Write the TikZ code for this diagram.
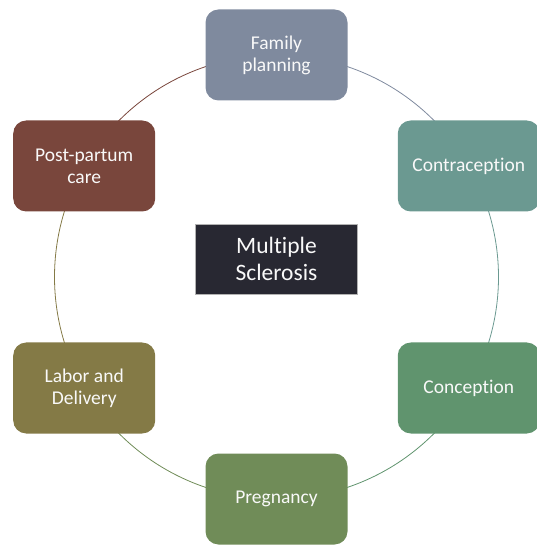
\documentclass[tikz,border=0pt]{standalone}
\usepackage{fontspec}
\setmainfont{Carlito}[Ligatures=NoCommon]
\usetikzlibrary{backgrounds}
\definecolor{fpcol}{RGB}{127,138,158}
\definecolor{contcol}{RGB}{107,153,145}
\definecolor{conccol}{RGB}{96,148,110}
\definecolor{pregcol}{RGB}{112,140,88}
\definecolor{labcol}{RGB}{132,122,70}
\definecolor{postcol}{RGB}{121,70,60}
\definecolor{mscol}{RGB}{40,40,50}
\tikzset{
    stage/.style={rounded corners=13pt, fill=#1, text=white!95!gray, minimum width=142pt,
        minimum height=91pt, align=center, font=\fontsize{19.5}{22}\selectfont},
    ring/.style={line width=.8pt, draw=#1}
}

\begin{document}
\begin{tikzpicture}[x=1pt, y=1pt]
    \useasboundingbox(-276.5, -268)rectangle(259.5, 277);
    \node[stage=fpcol](fp)at(90:222){Family\\planning};
    \node[stage=contcol](cont)at(30:222){Contraception};
    \node[stage=conccol](conc)at(-30:222){Conception};
    \node[stage=pregcol](preg)at(-90:222){Pregnancy};
    \node[stage=labcol](lab)at(210:222){Labor and\\Delivery};
    \node[stage=postcol](post)at(150:222){Post-partum\\care};
    \node[fill=mscol, draw=gray!60, line width=.6pt, text=white!95!gray, minimum width=162pt,
        minimum height=70pt, align=center, font=\fontsize{23.5}{27}\selectfont](ms)at(0, 18){Multiple\\Sclerosis};
    \begin{scope}[on background layer]
        \draw[ring=fpcol](fp.center)arc[start angle=90, end angle=30, radius=222];
        \draw[ring=contcol](cont.center)arc[start angle=30, end angle=-30, radius=222];
        \draw[ring=conccol](conc.center)arc[start angle=-30, end angle=-90, radius=222];
        \draw[ring=pregcol](preg.center)arc[start angle=-90, end angle=-150, radius=222];
        \draw[ring=labcol](lab.center)arc[start angle=210, end angle=150, radius=222];
        \draw[ring=postcol](post.center)arc[start angle=150, end angle=90, radius=222];
    \end{scope}
\end{tikzpicture}
\end{document}
